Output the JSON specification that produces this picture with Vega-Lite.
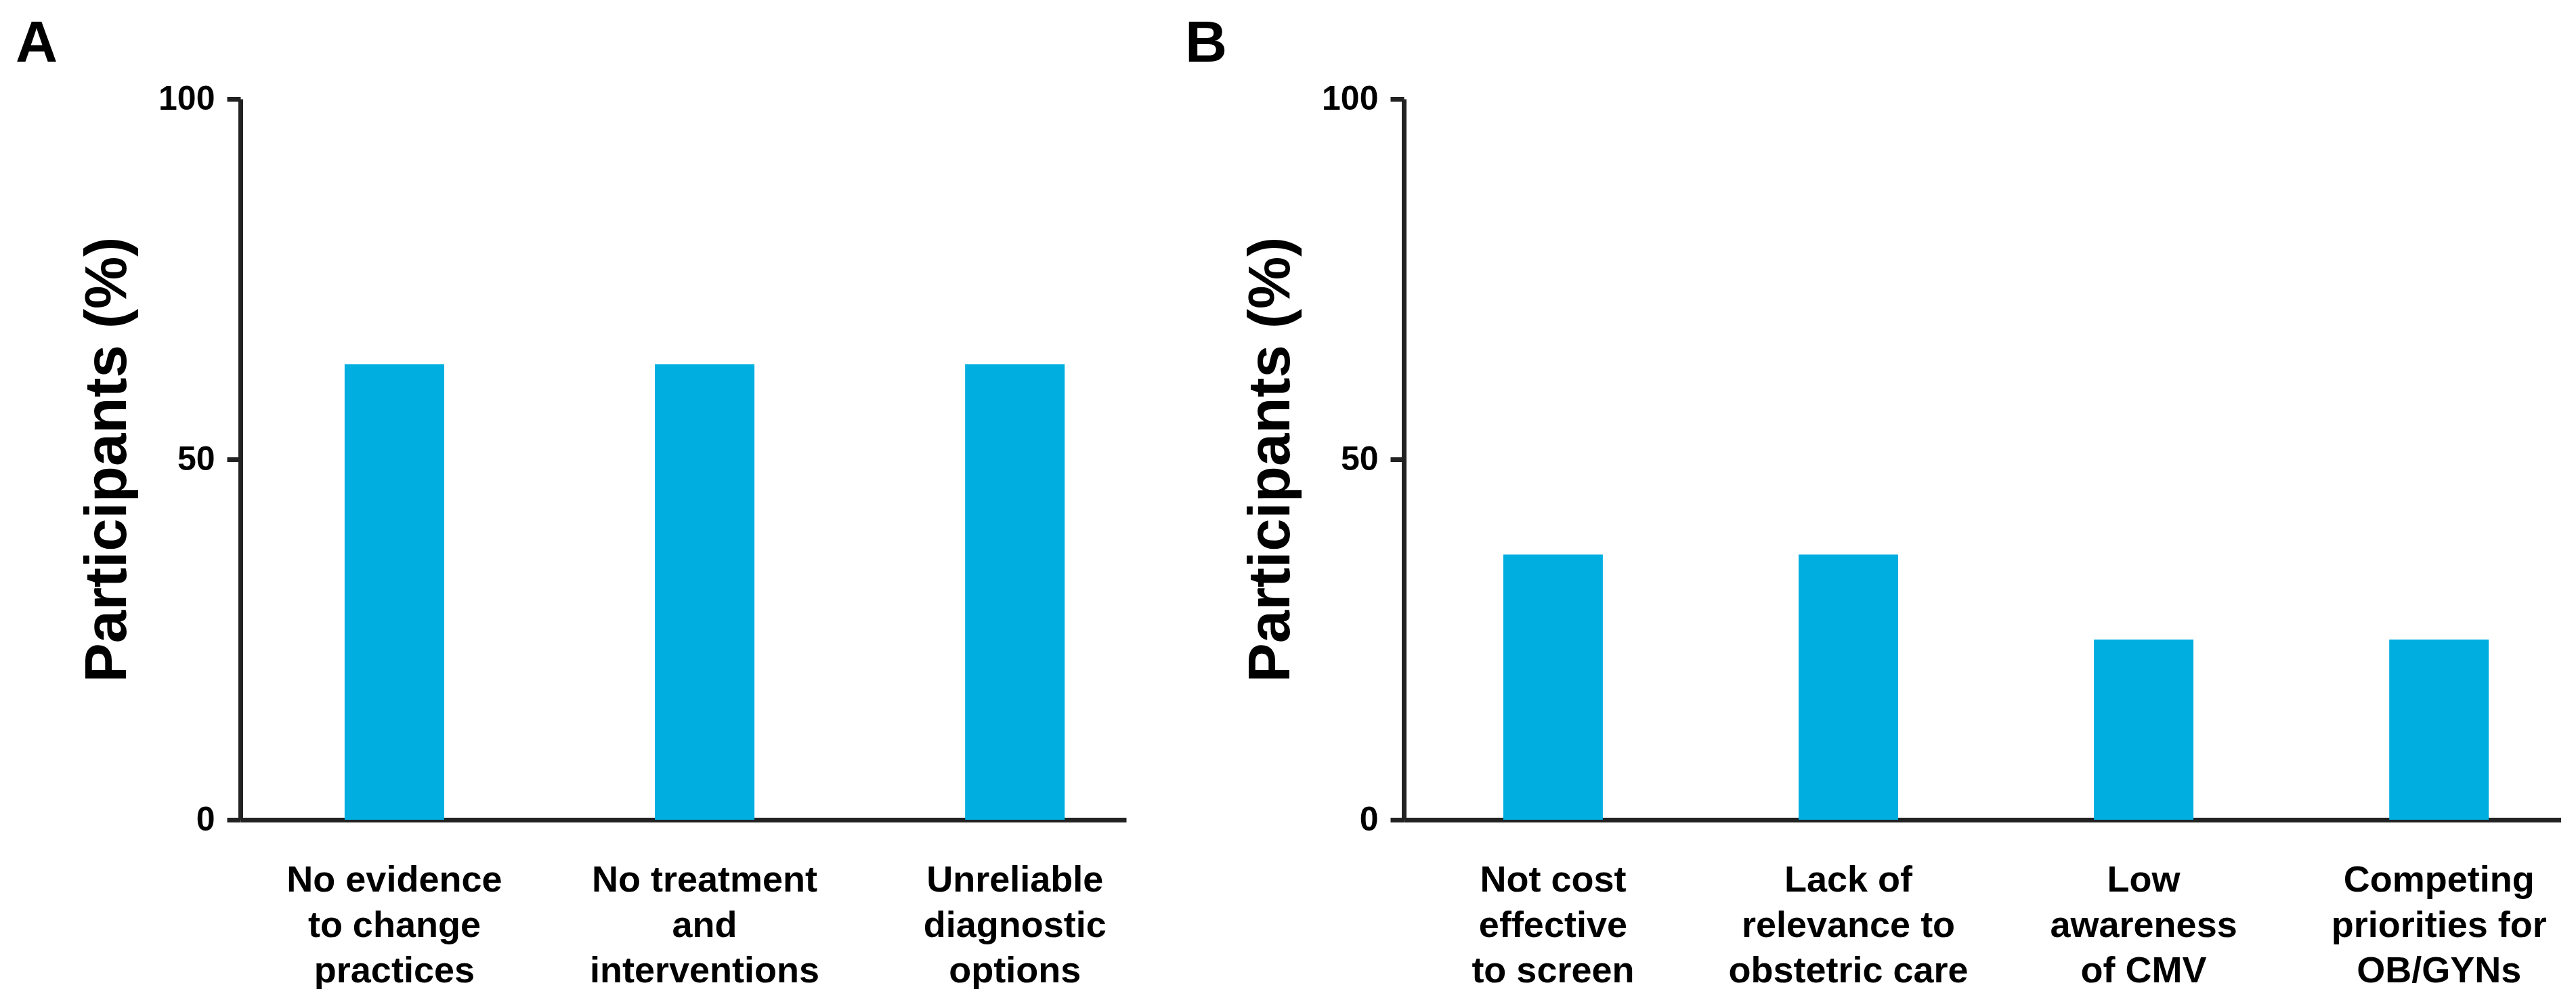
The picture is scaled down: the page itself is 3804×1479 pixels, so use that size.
{
  "$schema": "https://vega.github.io/schema/vega-lite/v6.json",
  "background": "white",
  "padding": {"left": 23, "top": 22, "right": 0, "bottom": 0},
  "config": {
    "view": {"stroke": null},
    "font": "Liberation Sans",
    "axis": {
      "domainColor": "#222222",
      "domainWidth": 7,
      "tickColor": "#222222",
      "tickWidth": 7,
      "labelColor": "#000000",
      "labelFont": "Liberation Sans",
      "labelFontWeight": "bold",
      "titleFont": "Liberation Sans",
      "titleFontWeight": "bold",
      "titleColor": "#000000",
      "grid": false,
      "zindex": 1
    }
  },
  "bounds": "flush",
  "spacing": 410,
  "hconcat": [
    {
      "width": 1308,
      "height": 1064,
      "title": {"text": "A", "anchor": "start", "frame": "group", "dx": -332, "fontSize": 86, "fontWeight": "bold", "font": "Liberation Sans", "offset": 12, "color": "#000000"},
      "data": {"values": [
        {"barrier": "No evidence|to change|practices", "pct": 63.2},
        {"barrier": "No treatment|and|interventions", "pct": 63.2},
        {"barrier": "Unreliable|diagnostic|options", "pct": 63.2}
      ]},
      "mark": {"type": "bar", "color": "#00AEE0"},
      "encoding": {
        "x": {
          "field": "barrier", "type": "nominal", "sort": null,
          "scale": {"paddingInner": 0.679, "paddingOuter": 0.267, "align": 0.629},
          "axis": {"title": null, "labelExpr": "split(datum.label, '|')", "labelAngle": 0, "labelFontSize": 54, "labelLineHeight": 67, "ticks": false, "tickSize": 0, "labelPadding": 62, "labelBaseline": "top", "labelLimit": 0}
        },
        "y": {
          "field": "pct", "type": "quantitative",
          "scale": {"domain": [0, 100], "nice": false},
          "axis": {"title": "Participants (%)", "values": [0, 50, 100], "tickSize": 20, "labelFontSize": 50, "labelPadding": 18, "titleFontSize": 87, "titlePadding": 30}
        }
      }
    },
    {
      "width": 1709,
      "height": 1064,
      "title": {"text": "B", "anchor": "start", "frame": "group", "dx": -323, "fontSize": 86, "fontWeight": "bold", "font": "Liberation Sans", "offset": 12, "color": "#000000"},
      "data": {"values": [
        {"barrier": "Not cost|effective|to screen", "pct": 36.8},
        {"barrier": "Lack of|relevance to|obstetric care", "pct": 36.8},
        {"barrier": "Low|awareness|of CMV", "pct": 25.0},
        {"barrier": "Competing|priorities for|OB/GYNs", "pct": 25.0}
      ]},
      "mark": {"type": "bar", "color": "#00AEE0"},
      "encoding": {
        "x": {
          "field": "barrier", "type": "nominal", "sort": null,
          "scale": {"paddingInner": 0.663, "paddingOuter": 0.291, "align": 0.579},
          "axis": {"title": null, "labelExpr": "split(datum.label, '|')", "labelAngle": 0, "labelFontSize": 54, "labelLineHeight": 67, "ticks": false, "tickSize": 0, "labelPadding": 62, "labelBaseline": "top", "labelLimit": 0}
        },
        "y": {
          "field": "pct", "type": "quantitative",
          "scale": {"domain": [0, 100], "nice": false},
          "axis": {"title": "Participants (%)", "values": [0, 50, 100], "tickSize": 20, "labelFontSize": 50, "labelPadding": 18, "titleFontSize": 87, "titlePadding": 30}
        }
      }
    }
  ]
}
